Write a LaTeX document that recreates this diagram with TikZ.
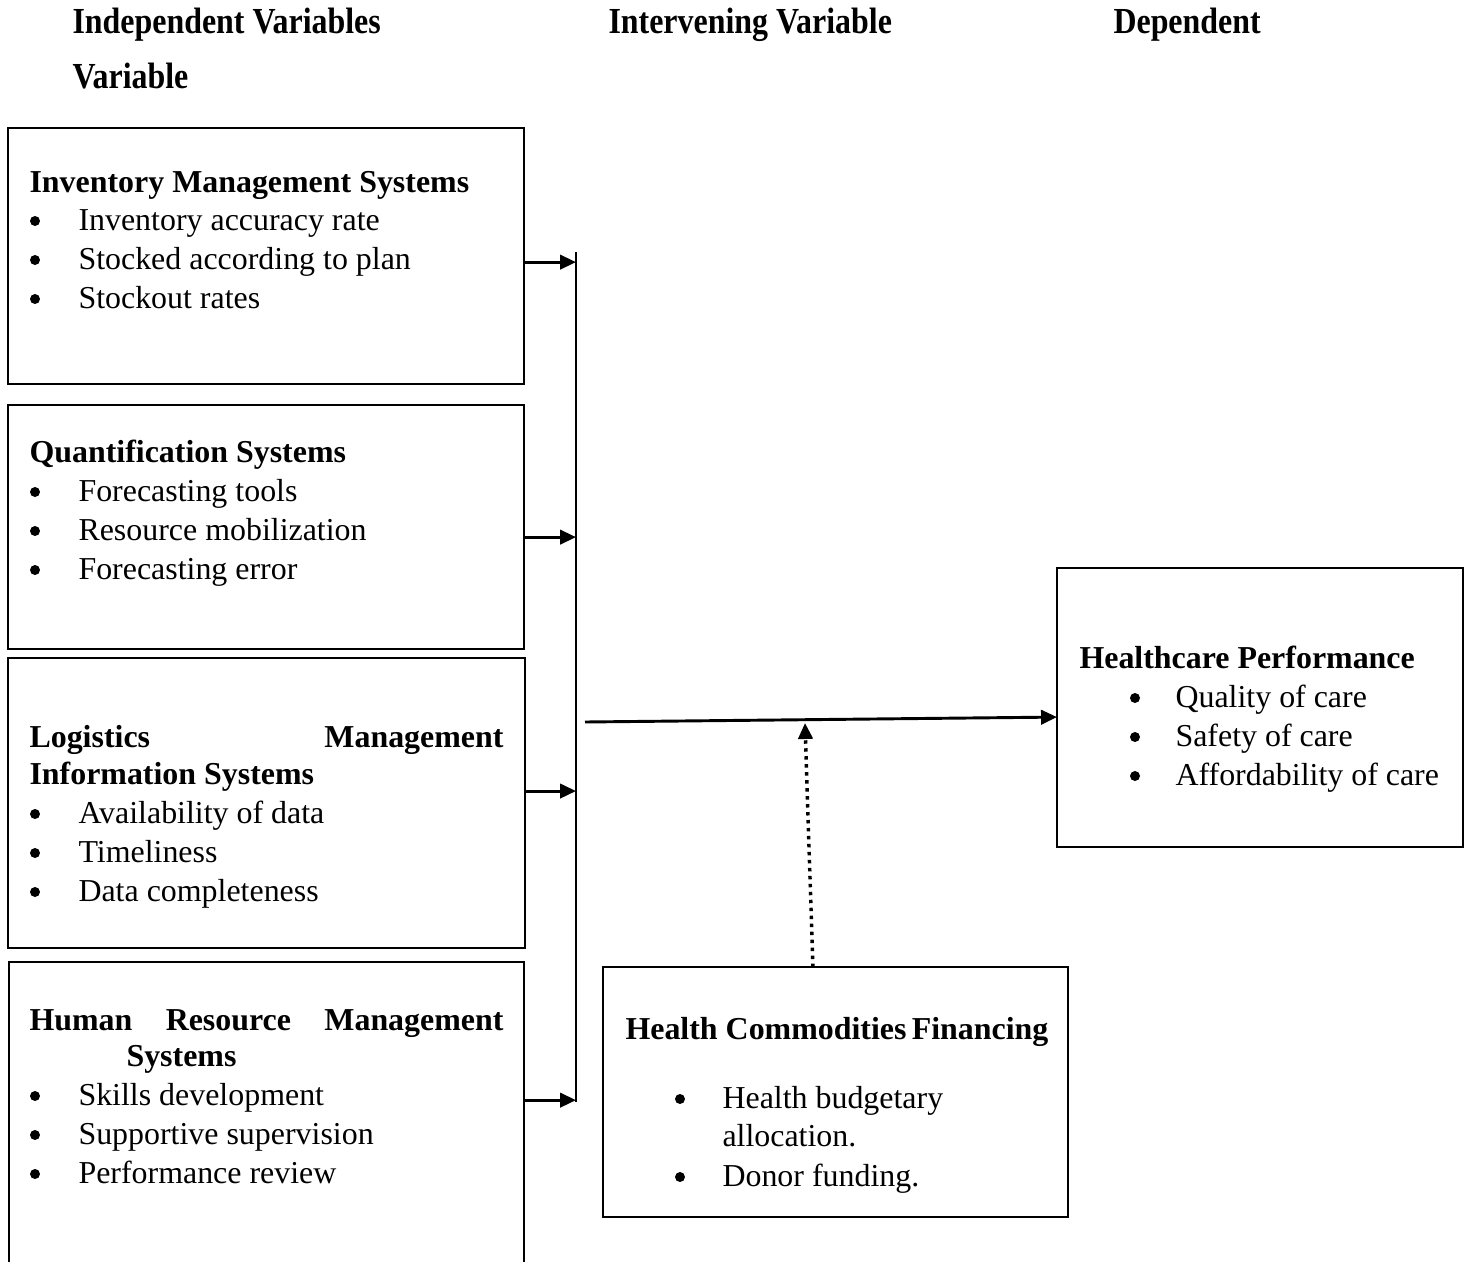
\documentclass[12pt,tikz,border=0pt]{standalone}
\usepackage{graphicx}
\usepackage{fontspec}
\setmainfont{Liberation Serif}
\usepackage{tikz}
\usetikzlibrary{arrows.meta,positioning}

\def\pxl{0.376pt}
\tikzset{
  box/.style={draw, line width=0.8pt, rectangle, anchor=north west, inner sep=0pt, outer sep=0pt},
  ttl/.style={font=\bfseries, anchor=base west, inner sep=0pt},
  itm/.style={anchor=base west, inner sep=0pt},
  bul/.style={circle, fill, inner sep=0pt, minimum size=10*\pxl},
  hdr/.style={font=\bfseries, anchor=base west, inner sep=0pt},
  conn/.style={line width=1.1pt, -{Triangle[length=6pt,width=5.4pt]}},
  modline/.style={line width=1.3pt, dash pattern=on 1.3pt off 1.7pt, -{Triangle[length=6pt,width=5.4pt]}}
}
\newcommand{\hdrtext}[1]{\scalebox{1}[1.15]{#1}}

\begin{document}
\fontsize{12pt}{14pt}\selectfont
\begin{tikzpicture}[x=\pxl, y=-\pxl]
    \clip (0,0) rectangle (1466,1262);
    \useasboundingbox (0,0) rectangle (1466,1262);

    % Headings
    \node[hdr] (h-ind) at (72,33) {\hdrtext{Independent Variables}};
    \node[hdr] (h-var) at (72,88) {\hdrtext{Variable}};
    \node[hdr] (h-int) at (608,33) {\hdrtext{Intervening Variable}};
    \node[hdr] (h-dep) at (1113,33) {\hdrtext{Dependent}};

    % Independent variables
    \node[box, minimum width=516*\pxl, minimum height=256*\pxl] (inv) at (8,128) {};
    \node[ttl] (inv-t) at (29,192) {Inventory Management Systems};
    \foreach \t [count=\i] in {Inventory accuracy rate, Stocked according to plan, Stockout rates}{
      \node[bul] (inv-b\i) at (35,182+39*\i) {};
      \node[itm] (inv-\i) at (78,191+39*\i) {\t};
    }

    \node[box, minimum width=516*\pxl, minimum height=244*\pxl] (qs) at (8,405) {};
    \node[ttl] (qs-t) at (29,462) {Quantification Systems};
    \foreach \t [count=\i] in {Forecasting tools, Resource mobilization, Forecasting error}{
      \node[bul] (qs-b\i) at (35,453+39*\i) {};
      \node[itm] (qs-\i) at (78,462+39*\i) {\t};
    }

    \node[box, minimum width=517*\pxl, minimum height=290*\pxl] (lmis) at (8,658) {};
    \node[ttl] (lmis-t1) at (29,747) {\makebox[178.2pt]{Logistics\hfill Management}};
    \node[ttl] (lmis-t2) at (29,784) {Information Systems};
    \foreach \t [count=\i] in {Availability of data, Timeliness, Data completeness}{
      \node[bul] (lmis-b\i) at (35,775+39*\i) {};
      \node[itm] (lmis-\i) at (78,784+39*\i) {\t};
    }

    \node[box, minimum width=515*\pxl, minimum height=330*\pxl] (hrm) at (9,962) {};
    \node[ttl] (hrm-t1) at (29,1030) {\makebox[178.2pt]{Human\hfill Resource\hfill Management}};
    \node[ttl] (hrm-t2) at (126,1066) {Systems};
    \foreach \t [count=\i] in {Skills development, Supportive supervision, Performance review}{
      \node[bul] (hrm-b\i) at (35,1057+39*\i) {};
      \node[itm] (hrm-\i) at (78,1066+39*\i) {\t};
    }

    % Dependent variable
    \node[box, minimum width=406*\pxl, minimum height=279*\pxl] (hp) at (1057,568) {};
    \node[ttl] (hp-t) at (1079,668) {Healthcare Performance};
    \foreach \t [count=\i] in {Quality of care, Safety of care, Affordability of care}{
      \node[bul] (hp-b\i) at (1135,659+39*\i) {};
      \node[itm] (hp-\i) at (1175,668+39*\i) {\t};
    }

    % Intervening variable
    \node[box, minimum width=465*\pxl, minimum height=250*\pxl] (hcf) at (603,967) {};
    \node[ttl] (hcf-t) at (625,1039) {Health Commodities\,Financing};
    \node[bul] (hcf-b1) at (680,1099) {};
    \node[itm] (hcf-1) at (722,1108) {Health budgetary};
    \node[itm] (hcf-1b) at (722,1146) {allocation.};
    \node[bul] (hcf-b2) at (680,1177) {};
    \node[itm] (hcf-2) at (722,1186) {Donor funding.};

    % Connectors
    \coordinate (bartop) at (576,252);
    \coordinate (barbot) at (576,1102);
    \coordinate (join) at (585,722);
    \coordinate (mod) at (805,723);
    \draw[line width=1.1pt] (bartop) -- (barbot);
    \draw[conn] ([yshift=-2.3pt]inv.east) -- ([yshift=-2.3pt]inv.east -| bartop);
    \draw[conn] ([yshift=-3.8pt]qs.east) -- ([yshift=-3.8pt]qs.east -| bartop);
    \draw[conn] ([yshift=4.5pt]lmis.east) -- ([yshift=4.5pt]lmis.east -| bartop);
    \draw[conn] ([yshift=10.1pt]hrm.east) -- ([yshift=10.1pt]hrm.east -| bartop);
    \draw[conn] (join) -- ([yshift=-3.6pt]hp.west);
    \draw[modline] ([xshift=-8.5pt]hcf.north) -- (mod);
  \end{tikzpicture}
\end{document}
